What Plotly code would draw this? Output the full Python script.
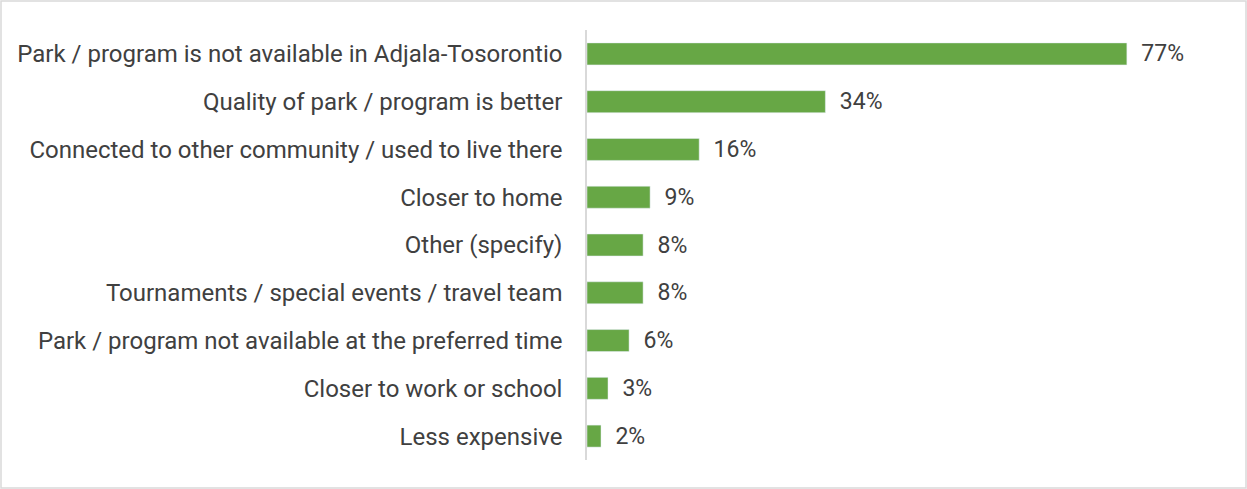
import plotly.graph_objects as go

categories = [
    "Park / program is not available in Adjala-Tosorontio",
    "Quality of park / program is better",
    "Connected to other community / used to live there",
    "Closer to home",
    "Other (specify)",
    "Tournaments / special events / travel team",
    "Park / program not available at the preferred time",
    "Closer to work or school",
    "Less expensive",
]
values = [77, 34, 16, 9, 8, 8, 6, 3, 2]
value_labels = ["\u00a0\u00a0" + f"{v}%" for v in values]

W, H = 1247, 489
ML, MR, MT, MB = 587, 29, 30, 29

fig = go.Figure(
    go.Bar(
        x=values,
        y=categories,
        orientation="h",
        marker=dict(color="#67A745"),
        text=value_labels,
        textposition="outside",
        constraintext="none",
        textfont=dict(family="Roboto", size=23, color="#404040"),
        cliponaxis=False,
    )
)

# light gray frame around the whole chart
pw, ph = W - ML - MR, H - MT - MB
fig.add_shape(
    type="rect",
    xref="paper", yref="paper",
    x0=-(ML - 1) / pw, x1=1 + (MR - 1) / pw,
    y0=-(MB - 1) / ph, y1=1 + (MT - 1) / ph,
    line=dict(color="#D9D9D9", width=1.5),
    layer="below",
)

fig.update_layout(
    width=W,
    height=H,
    margin=dict(l=ML, r=MR, t=MT, b=MB),
    paper_bgcolor="white",
    plot_bgcolor="white",
    font=dict(family="Roboto", size=24, color="#404040"),
    bargap=0.54,
    showlegend=False,
)
fig.update_xaxes(range=[0, 90], visible=False)
fig.update_yaxes(
    autorange="reversed",
    showline=True,
    linecolor="#D9D9D9",
    linewidth=1.5,
    ticks="",
    ticklabelstandoff=18,
    showgrid=False,
)

fig.write_html(
    "out.html",
    config={"displayModeBar": False},
    post_script="document.body.style.margin='0';",
)
